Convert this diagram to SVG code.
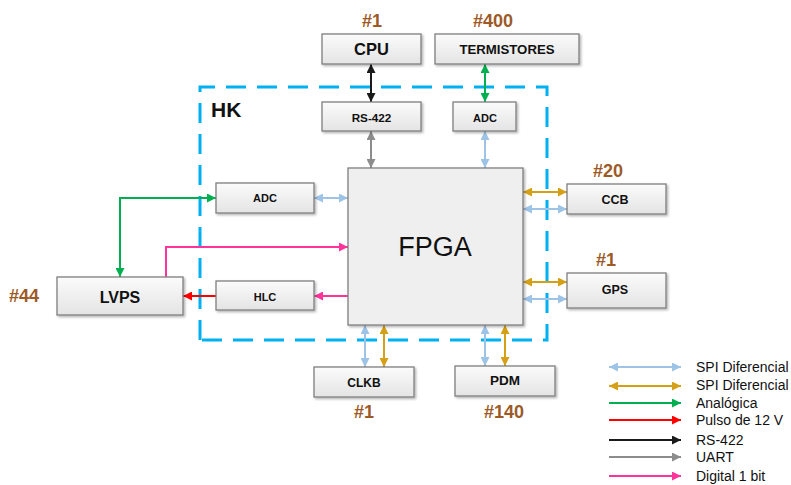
<svg xmlns="http://www.w3.org/2000/svg" width="791" height="485" viewBox="0 0 791 485">
<defs>
<linearGradient id="boxg" x1="0" y1="0" x2="0" y2="1">
<stop offset="0" stop-color="#fbfbfb"/>
<stop offset="1" stop-color="#e4e4e4"/>
</linearGradient>
<filter id="sh" x="-10%" y="-10%" width="130%" height="140%">
<feDropShadow dx="1.5" dy="1.5" stdDeviation="1" flood-color="#000" flood-opacity="0.3"/>
</filter>
<marker id="mBlue" viewBox="0 0 10 10" refX="10" refY="5" markerWidth="10" markerHeight="9" markerUnits="userSpaceOnUse" orient="auto-start-reverse"><path d="M0,0 L10,5 L0,10 Z" fill="#9DC3E6"/></marker>
<marker id="mGold" viewBox="0 0 10 10" refX="10" refY="5" markerWidth="10" markerHeight="9" markerUnits="userSpaceOnUse" orient="auto-start-reverse"><path d="M0,0 L10,5 L0,10 Z" fill="#D4A017"/></marker>
<marker id="mGreen" viewBox="0 0 10 10" refX="10" refY="5" markerWidth="10" markerHeight="9" markerUnits="userSpaceOnUse" orient="auto-start-reverse"><path d="M0,0 L10,5 L0,10 Z" fill="#00B050"/></marker>
<marker id="mRed" viewBox="0 0 10 10" refX="10" refY="5" markerWidth="10" markerHeight="9" markerUnits="userSpaceOnUse" orient="auto-start-reverse"><path d="M0,0 L10,5 L0,10 Z" fill="#FF0000"/></marker>
<marker id="mBlack" viewBox="0 0 10 10" refX="10" refY="5" markerWidth="10" markerHeight="9" markerUnits="userSpaceOnUse" orient="auto-start-reverse"><path d="M0,0 L10,5 L0,10 Z" fill="#1a1a1a"/></marker>
<marker id="mGray" viewBox="0 0 10 10" refX="10" refY="5" markerWidth="10" markerHeight="9" markerUnits="userSpaceOnUse" orient="auto-start-reverse"><path d="M0,0 L10,5 L0,10 Z" fill="#8C8C8C"/></marker>
<marker id="mPink" viewBox="0 0 10 10" refX="10" refY="5" markerWidth="10" markerHeight="9" markerUnits="userSpaceOnUse" orient="auto-start-reverse"><path d="M0,0 L10,5 L0,10 Z" fill="#FF3399"/></marker>
</defs>
<style>
.box{fill:url(#boxg);stroke:#7f7f7f;stroke-width:1.3;filter:url(#sh)}
.fpga{fill:#efefef;stroke:#7f7f7f;stroke-width:1.3;filter:url(#sh)}
.lbl{font-family:"Liberation Sans",Arial,sans-serif;font-weight:bold;fill:#111;text-anchor:middle}
.num{font-family:"Liberation Sans",Arial,sans-serif;font-weight:bold;fill:#9C5A27;text-anchor:middle;font-size:18px}
.leg{font-family:"Liberation Sans",Arial,sans-serif;font-size:14px;fill:#111}
.c{fill:none;stroke-width:2}
.blue{stroke:#9DC3E6;marker-start:url(#mBlue);marker-end:url(#mBlue)}
.gold{stroke:#D4A017;marker-start:url(#mGold);marker-end:url(#mGold)}
.green{stroke:#00B050;marker-end:url(#mGreen)}
.red{stroke:#FF0000;marker-end:url(#mRed)}
.black{stroke:#1a1a1a;marker-end:url(#mBlack)}
.gray{stroke:#8C8C8C;marker-end:url(#mGray)}
.pink{stroke:#FF3399;marker-end:url(#mPink)}
.both.green{marker-start:url(#mGreen)}
.both.black{marker-start:url(#mBlack)}
.both.gray{marker-start:url(#mGray)}
</style>
<rect width="791" height="485" fill="#ffffff"/>

<g id="hk-boundary">
<path d="M200,340 V87 H547 V340 Z" fill="none" stroke="#00B0F0" stroke-width="3" stroke-dasharray="20 11"/>
<text x="211" y="117" font-family="Liberation Sans,Arial,sans-serif" font-weight="bold" font-size="21" fill="#111">HK</text>
</g>

<g id="connectors">
<path class="c black both" d="M371,64 V102"/>
<path class="c green both" d="M485,64 V102"/>
<path class="c gray both" d="M371,131 V168"/>
<path class="c blue" d="M485,131 V168"/>
<path class="c blue" d="M314,198 H348"/>
<path class="c green both" d="M216,198 H120 V277"/>
<path class="c pink" d="M166,277 V247 H348"/>
<path class="c red" d="M216,296 H183"/>
<path class="c pink" d="M348,296 H314"/>
<path class="c gold" d="M523,192 H567"/>
<path class="c blue" d="M523,209 H567"/>
<path class="c gold" d="M523,282 H567"/>
<path class="c blue" d="M523,299 H567"/>
<path class="c blue" d="M365,325 V367"/>
<path class="c gold" d="M384,325 V367"/>
<path class="c blue" d="M485,325 V366"/>
<path class="c gold" d="M505,325 V366"/>
</g>

<g id="fpga"><rect class="fpga" x="348" y="168" width="175" height="157"/>
<text x="435" y="256" font-family="Liberation Sans,Arial,sans-serif" font-size="27" fill="#111" text-anchor="middle">FPGA</text></g>

<g id="cpu"><rect class="box" x="322" y="34" width="99" height="30"/>
<text class="lbl" x="371.5" y="55" font-size="16.5">CPU</text>
<text class="num" x="372" y="27">#1</text></g>

<g id="termistores"><rect class="box" x="435" y="34" width="144" height="30"/>
<text class="lbl" x="507" y="54" font-size="13.2">TERMISTORES</text>
<text class="num" x="493" y="27">#400</text></g>

<g id="rs422"><rect class="box" x="322" y="102" width="99" height="29"/>
<text class="lbl" x="371.5" y="121.5" font-size="11.7">RS-422</text></g>

<g id="adc-top"><rect class="box" x="453" y="102" width="63" height="29"/>
<text class="lbl" x="485" y="121.5" font-size="11">ADC</text></g>

<g id="adc-left"><rect class="box" x="216" y="183" width="98" height="30"/>
<text class="lbl" x="265" y="202.3" font-size="11">ADC</text></g>

<g id="hlc"><rect class="box" x="216" y="281" width="98" height="29"/>
<text class="lbl" x="265" y="300.5" font-size="11">HLC</text></g>

<g id="lvps"><rect class="box" x="57" y="277" width="126" height="38"/>
<text class="lbl" x="120" y="302.5" font-size="16">LVPS</text>
<text class="num" x="24" y="302" font-size="18.5">#44</text></g>

<g id="ccb"><rect class="box" x="567" y="184" width="99" height="30"/>
<text class="lbl" x="615" y="204" font-size="12.5">CCB</text>
<text class="num" x="608" y="177">#20</text></g>

<g id="gps"><rect class="box" x="567" y="273" width="99" height="35"/>
<text class="lbl" x="615" y="294" font-size="12.5">GPS</text>
<text class="num" x="606" y="266">#1</text></g>

<g id="clkb"><rect class="box" x="314" y="367" width="100" height="30"/>
<text class="lbl" x="364" y="386.5" font-size="12">CLKB</text>
<text class="num" x="364" y="418">#1</text></g>

<g id="pdm"><rect class="box" x="455" y="366" width="100" height="30"/>
<text class="lbl" x="505" y="385" font-size="13.5">PDM</text>
<text class="num" x="504" y="418">#140</text></g>

<g id="legend">
<path class="c blue" d="M609,367 H681"/>
<path class="c gold" d="M609,386 H681"/>
<path class="c green" d="M609,403 H681"/>
<path class="c red" d="M609,420 H681"/>
<path class="c black" d="M609,440 H681"/>
<path class="c gray" d="M609,457 H681"/>
<path class="c pink" d="M609,476 H681"/>
<text class="leg" x="696" y="372">SPI Diferencial</text>
<text class="leg" x="696" y="390">SPI Diferencial</text>
<text class="leg" x="696" y="408">Analógica</text>
<text class="leg" x="696" y="425">Pulso de 12 V</text>
<text class="leg" x="696" y="444.5">RS-422</text>
<text class="leg" x="696" y="462">UART</text>
<text class="leg" x="696" y="481">Digital 1 bit</text>
</g>
</svg>
